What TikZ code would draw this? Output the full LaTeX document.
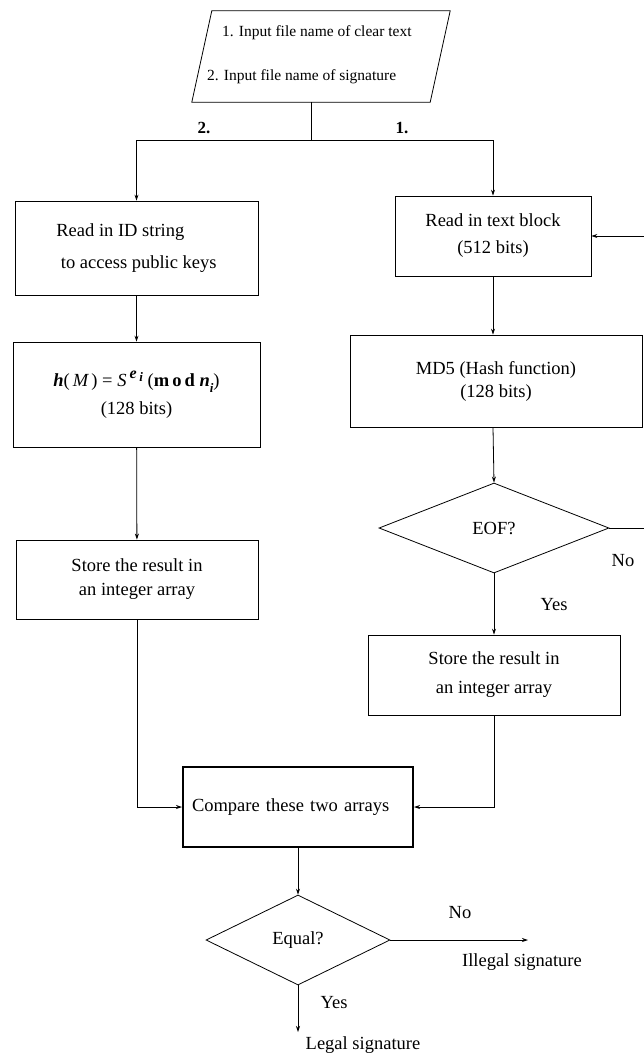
\documentclass[tikz,border=0pt]{standalone}
\usepackage{fontspec}
\setmainfont{Liberation Serif}
\usetikzlibrary{arrows.meta,calc,shapes.geometric}
\begin{document}
\begin{tikzpicture}[x=1pt,y=-1pt,
  every node/.style={inner sep=0pt},
  txt/.style={font=\fontsize{18.5}{22}\selectfont},
  box/.style={draw, line width=0.8pt, align=center, font=\fontsize{18.5}{26}\selectfont},
  dec/.style={draw, line width=0.8pt, shape=diamond, font=\fontsize{18.5}{22}\selectfont},
  line/.style={line width=0.8pt},
  arr/.style={line width=0.8pt, -{Stealth[length=6pt,width=4pt]}}
]
\useasboundingbox[fill=white] (0,0) rectangle (644,1061);

% input parallelogram
\node[minimum width=258pt, minimum height=91pt] (para) at (321,56.5) {};
\draw[line] (para.south west) -- ($(para.south east)+(-20,0)$) -- (para.north east) -- ($(para.north west)+(20,0)$) -- cycle;
\node[anchor=west, font=\fontsize{15.5}{18}\selectfont] (in1) at (222,33) {1. Input file name of clear text};
\node[anchor=west, font=\fontsize{15.5}{18}\selectfont] (in2) at (207,77) {2. Input file name of signature};

% left column
\node[box, minimum width=243pt, minimum height=94pt, align=left, font=\fontsize{18.5}{32}\selectfont] (l1) at (136.5,248) {Read in ID string\\ \ to access public keys};
\node[box, minimum width=247pt, minimum height=105pt, font=\fontsize{18.5}{28}\selectfont] (l2) at (136.5,394.5)
  {{\bfseries\itshape h}(\,{\itshape M}\,)\ =\ {\itshape S}\,\raisebox{1.0ex}{\fontsize{16}{16}\selectfont\bfseries\itshape e\,\raisebox{-0.45ex}{\fontsize{13}{13}\selectfont i}}\ (\textbf{m\,o\,d}\ {\bfseries\itshape n}\raisebox{-0.7ex}{\fontsize{13}{13}\selectfont\bfseries\itshape i})\\(128 bits)};
\node[box, minimum width=242pt, minimum height=79pt, font=\fontsize{18.5}{24}\selectfont] (l3) at (137,579.5) {Store the result in\\an integer array};

% right column
\node[box, minimum width=196pt, minimum height=80pt, font=\fontsize{18.5}{27}\selectfont] (r1) at (493,236) {Read in text block\\(512 bits)};
\node[box, minimum width=292pt, minimum height=92pt, font=\fontsize{18.5}{23}\selectfont] (md5) at (496,381) {MD5 (Hash function)\\(128 bits)};
\node[dec, minimum width=230pt, minimum height=90pt, aspect=2.55] (eof) at (494,528) {EOF?};
\node[box, minimum width=252pt, minimum height=80pt, font=\fontsize{18.5}{29}\selectfont] (r3) at (494,675) {Store the result in\\an integer array};

% compare and decision
\node[box, line width=2pt, minimum width=230pt, minimum height=80pt, text width=212pt, align=left] (cmp) at (298,807) {Compare these two arrays};
\node[dec, minimum width=184pt, minimum height=90pt, aspect=2.04] (eq) at (298,940) {Equal?};

% split from input
\coordinate (trunk) at ($(para.south)+(-10,0)$);
\coordinate (split) at (311,140);
\draw[line] (trunk) -- (split);
\draw[arr] (split) -| (l1.north);
\draw[arr] (split) -| (r1.north);
\node[txt, font=\fontsize{17}{20}\selectfont\bfseries] (lab2) at (204,128) {2.};
\node[txt, font=\fontsize{17}{20}\selectfont\bfseries] (lab1) at (402,128) {1.};

% left flow
\draw[arr] (l1) -- (l2);
\draw[arr] (l2) -- (l3);
\draw[arr] (l3.south) |- (cmp.west);

% right flow
\draw[arr] (r1.south) -- (r1.south |- md5.north);
\draw[arr] (r1.south |- md5.south) -- (eof.north);
\coordinate (loopc) at (652,528);
\draw[arr] (eof.east) -- (loopc) |- (r1.east);
\node[txt] (no1) at (623,561) {No};
\draw[arr] (eof.south) -- (r3.north);
\node[txt] (yes1) at (554,605) {Yes};
\draw[arr] (r3.south) |- (cmp.east);

% final decision
\draw[arr] (cmp.south) -- (eq.north);
\coordinate (illc) at (528,940);
\draw[arr] (eq.east) -- (illc);
\node[txt] (no2) at (460,913) {No};
\node[txt] (ill) at (522,962) {Illegal signature};
\coordinate (legc) at (298,1032);
\draw[arr] (eq.south) -- (legc);
\node[txt] (yes2) at (334,1003) {Yes};
\node[txt] (leg) at (363,1045) {Legal signature};
\end{tikzpicture}
\end{document}
